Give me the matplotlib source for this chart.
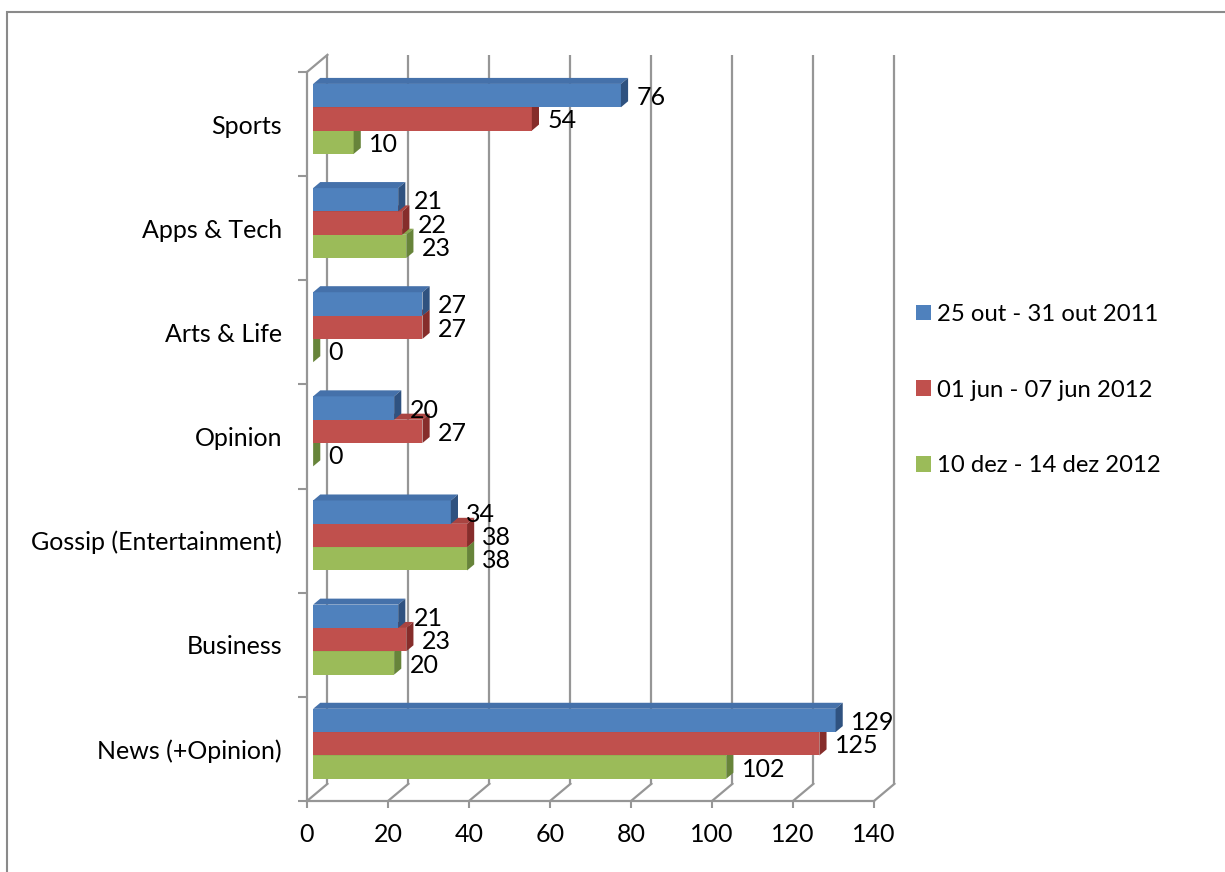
import matplotlib
matplotlib.use("Agg")
import matplotlib.pyplot as plt
from matplotlib.patches import Polygon, Rectangle, Patch
import numpy as np

# ---- data -------------------------------------------------------------
categories = ["News (+Opinion)", "Business", "Gossip (Entertainment)",
              "Opinion", "Arts & Life", "Apps & Tech", "Sports"]
series_labels = ["25 out - 31 out 2011", "01 jun - 07 jun 2012",
                 "10 dez - 14 dez 2012"]
oct_2011 = [129, 21, 34, 20, 27, 21, 76]
jun_2012 = [125, 23, 38, 27, 27, 22, 54]
dec_2012 = [102, 20, 38, 0, 0, 23, 10]
x_ticks = [0, 20, 40, 60, 80, 100, 120, 140]

series = [oct_2011, jun_2012, dec_2012]

# ---- style ------------------------------------------------------------
front_colors = ["#4F81BD", "#C0504D", "#9BBB59"]
top_colors = ["#4571AA", "#A94441", "#88A64C"]
side_colors = ["#2F5280", "#862D2B", "#67843A"]
GRID = "#969696"
FS = 18
LEGEND_FS = 17.2

plt.rcParams["font.family"] = ["Lato", "DejaVu Sans"]

# oblique projection: shift per unit of depth (0 = front, 1 = back wall)
DEPTH_DX = 5.05
DEPTH_DY = 0.165
BAR_D0, BAR_D1 = 0.30, 0.65
BAR_H = 0.224


def proj(x, y, d):
    return x + d * DEPTH_DX, y + d * DEPTH_DY


W, H = 1225, 872
fig = plt.figure(figsize=(W / 100, H / 100), dpi=100)
ax = fig.add_axes([307 / W, 71 / H, 567 / W, 729 / H])
ax.set_xlim(0, 140)
ax.set_ylim(-0.5, 6.5)
ax.patch.set_visible(False)

for s in ("top", "right"):
    ax.spines[s].set_visible(False)
for s in ("left", "bottom"):
    ax.spines[s].set_color(GRID)
    ax.spines[s].set_linewidth(1.6)

# back wall gridlines, floor diagonals and top edge of the side wall
ymin, ymax = -0.5, 6.5
for g in x_ticks:
    x0, y0 = proj(g, ymin, 1)
    x1, y1 = proj(g, ymax, 1)
    ax.plot([x0, x1], [y0, y1], color=GRID, lw=1.6, clip_on=False, zorder=1,
            solid_capstyle="butt")
    fx, fy = proj(g, ymin, 0)
    ax.plot([fx, x0], [fy, y0], color=GRID, lw=1.6, clip_on=False, zorder=1)
tx0, ty0 = proj(0, ymax, 0)
tx1, ty1 = proj(0, ymax, 1)
ax.plot([tx0, tx1], [ty0, ty1], color=GRID, lw=1.6, clip_on=False, zorder=1)

# ---- 3D bars ----------------------------------------------------------
for j in (2, 1, 0):
    vals = series[j]
    z = 3 + (2 - j)
    for i, v in enumerate(vals):
        yc = i + (1 - j) * BAR_H
        yb, yt = yc - BAR_H / 2, yc + BAR_H / 2
        fx0, fy0 = proj(0, yb, BAR_D0)
        ax.barh(fy0 + BAR_H / 2, v, left=fx0, height=BAR_H,
                color=front_colors[j], zorder=z, clip_on=False)
        top = [proj(0, yt, BAR_D0), proj(v, yt, BAR_D0),
               proj(v, yt, BAR_D1), proj(0, yt, BAR_D1)]
        side = [proj(v, yb, BAR_D0), proj(v, yt, BAR_D0),
                proj(v, yt, BAR_D1), proj(v, yb, BAR_D1)]
        ax.add_patch(Polygon(top, closed=True, facecolor=top_colors[j],
                             edgecolor="none", zorder=z, clip_on=False))
        ax.add_patch(Polygon(side, closed=True, facecolor=side_colors[j],
                             edgecolor="none", zorder=z, clip_on=False))
        ax.annotate(str(v), xy=proj(v, yc, BAR_D0), xytext=(11, -1.5),
                    textcoords="offset points", ha="left", va="center",
                    fontsize=FS, annotation_clip=False, zorder=10)

# ---- axes ticks and labels -------------------------------------------
ax.set_xticks(x_ticks)
ax.set_xticklabels([str(t) for t in x_ticks])
ax.tick_params(axis="x", direction="out", length=5, width=1.5, color=GRID,
               pad=11, labelsize=FS)
ax.set_yticks(np.arange(-0.5, 7, 1))
ax.set_yticklabels([])
ax.tick_params(axis="y", which="major", direction="out", length=6.5,
               width=1.5, color=GRID)
ax.set_yticks(range(len(categories)), minor=True)
ax.set_yticklabels(categories, minor=True)
ax.tick_params(axis="y", which="minor", length=0, pad=18, labelsize=FS)

# ---- legend -----------------------------------------------------------
fs_px = LEGEND_FS * 100 / 72
handles = [Patch(facecolor=c, edgecolor="none") for c in front_colors]
fig.legend(handles, series_labels, loc="center left",
           bbox_to_anchor=(916 / W, 1 - 390 / H), frameon=False,
           fontsize=LEGEND_FS, handlelength=15 / fs_px,
           handleheight=15 / fs_px, handletextpad=6 / fs_px,
           labelspacing=2.29, borderpad=0, borderaxespad=0)

# chart-area border
fig.add_artist(Rectangle((7 / W, -0.1), 1.2, (1 - 12 / H) + 0.1,
                         transform=fig.transFigure, fill=False,
                         edgecolor="#8a8a8a", lw=1.5))

fig.savefig("out.png", dpi=100)
